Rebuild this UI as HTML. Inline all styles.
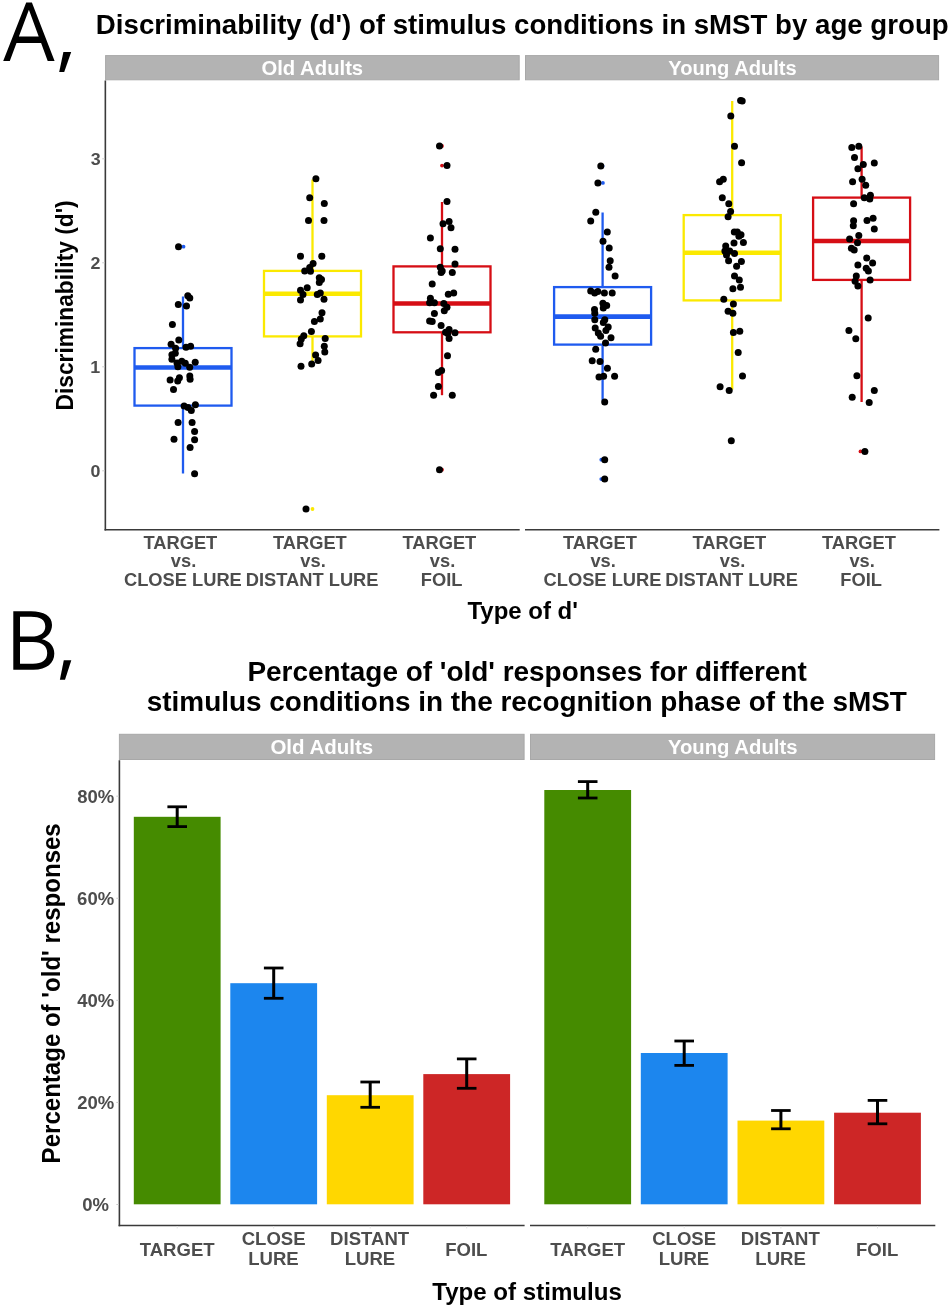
<!DOCTYPE html>
<html><head><meta charset="utf-8"><title>sMST figure</title>
<style>
html,body{margin:0;padding:0;background:#fff;}
svg{display:block;font-family:"Liberation Sans",sans-serif;will-change:transform;}
</style></head>
<body>
<svg width="950" height="1308" viewBox="0 0 950 1308">
<rect width="950" height="1308" fill="#fff"/>
<path fill="#000" fill-rule="evenodd" d="M3.2,61 L26.2,2.5 L31.9,2.5 L54.6,61 L47.7,61 L41.1,43 L16.5,43 L9.8,61 Z M18.9,36.6 L38.7,36.6 L28.9,9.8 Z"/>
<path fill="#000" d="M63.4,51.9 L71.2,51.9 L64.2,71.9 L59.2,71.9 Z"/>
<path fill="#000" fill-rule="evenodd" d="M13.3,611.3 L31,611.3 C44,611.3 52,616 52,625 C52,632 47.5,637 42,639.2 C49.5,641 54.3,646 54.3,653.5 C54.3,663 47,669.7 33.4,669.7 L13.3,669.7 Z M20,616.8 L31,616.8 C40,616.8 45.3,619.5 45.3,626.5 C45.3,633 40,636.6 31,636.6 L20,636.6 Z M20,642.1 L33,642.1 C42.5,642.1 47.2,646.5 47.2,653 C47.2,660 42,663.8 33,663.8 L20,663.8 Z"/>
<path fill="#000" d="M63.8,660.3 L71.3,660.3 L65,679.8 L59.9,679.8 Z"/>
<text transform="translate(95.86,33.80) scale(1.0319,1)" font-size="26.8" font-weight="bold" fill="#000">Discriminability (d&#39;) of stimulus conditions in sMST by age group</text>
<text transform="translate(247.40,680.90) scale(0.9974,1)" font-size="28" font-weight="bold" fill="#000">Percentage of &#39;old&#39; responses for different</text>
<text transform="translate(146.78,710.90) scale(0.9977,1)" font-size="28" font-weight="bold" fill="#000">stimulus conditions in the recognition phase of the sMST</text>
<rect x="105.6" y="55.6" width="413.6" height="24.199999999999996" fill="#B3B3B3" stroke="#A8A8A8" stroke-width="1"/>
<rect x="525.5" y="55.6" width="413.1" height="24.199999999999996" fill="#B3B3B3" stroke="#A8A8A8" stroke-width="1"/>
<rect x="119.4" y="734.3" width="404.70000000000005" height="25.200000000000045" fill="#B3B3B3" stroke="#A8A8A8" stroke-width="1"/>
<rect x="530.5" y="734.3" width="404.1" height="25.200000000000045" fill="#B3B3B3" stroke="#A8A8A8" stroke-width="1"/>
<text transform="translate(261.49,75.00) scale(1.0132,1)" font-size="20" font-weight="bold" fill="#FFFFFF">Old Adults</text>
<text transform="translate(668.30,75.00) scale(1.0063,1)" font-size="20" font-weight="bold" fill="#FFFFFF">Young Adults</text>
<text transform="translate(270.38,754.40) scale(1.0102,1)" font-size="20.3" font-weight="bold" fill="#FFFFFF">Old Adults</text>
<text transform="translate(667.89,754.40) scale(1.0000,1)" font-size="20.3" font-weight="bold" fill="#FFFFFF">Young Adults</text>
<line x1="105.35" y1="80.5" x2="105.35" y2="530.55" stroke="#3A3A3A" stroke-width="1.6"/>
<line x1="104.55" y1="529.75" x2="519.7" y2="529.75" stroke="#3A3A3A" stroke-width="1.6"/>
<line x1="525.0" y1="529.75" x2="939.4" y2="529.75" stroke="#3A3A3A" stroke-width="1.6"/>
<text transform="translate(90.59,476.90) scale(1.0500,1)" font-size="17" font-weight="bold" fill="#4D4D4D">0</text>
<line x1="102.2" y1="470.80" x2="104.6" y2="470.80" stroke="#CCCCCC" stroke-width="1"/>
<text transform="translate(90.23,372.90) scale(1.0500,1)" font-size="17" font-weight="bold" fill="#4D4D4D">1</text>
<line x1="102.2" y1="366.80" x2="104.6" y2="366.80" stroke="#CCCCCC" stroke-width="1"/>
<text transform="translate(90.59,268.90) scale(1.0500,1)" font-size="17" font-weight="bold" fill="#4D4D4D">2</text>
<line x1="102.2" y1="262.80" x2="104.6" y2="262.80" stroke="#CCCCCC" stroke-width="1"/>
<text transform="translate(90.68,164.90) scale(1.0500,1)" font-size="17" font-weight="bold" fill="#4D4D4D">3</text>
<line x1="102.2" y1="158.80" x2="104.6" y2="158.80" stroke="#CCCCCC" stroke-width="1"/>
<text transform="translate(73.00,410.39) rotate(-90) scale(0.9282,1)" font-size="24.5" font-weight="bold" fill="#000">Discriminability (d&#39;)</text>
<text transform="translate(467.46,618.70) scale(0.9991,1)" font-size="24" font-weight="bold" fill="#000">Type of d&#39;</text>
<text transform="translate(143.43,548.50) scale(1.0400,1)" font-size="17.6" font-weight="bold" fill="#4D4D4D">TARGET</text>
<text transform="translate(170.83,567.20) scale(1.0400,1)" font-size="17.6" font-weight="bold" fill="#4D4D4D">vs.</text>
<text transform="translate(123.97,586.10) scale(1.0400,1)" font-size="17.6" font-weight="bold" fill="#4D4D4D">CLOSE LURE</text>
<text transform="translate(272.93,548.50) scale(1.0400,1)" font-size="17.6" font-weight="bold" fill="#4D4D4D">TARGET</text>
<text transform="translate(300.33,567.20) scale(1.0400,1)" font-size="17.6" font-weight="bold" fill="#4D4D4D">vs.</text>
<text transform="translate(245.78,586.10) scale(1.0400,1)" font-size="17.6" font-weight="bold" fill="#4D4D4D">DISTANT LURE</text>
<text transform="translate(402.43,548.50) scale(1.0400,1)" font-size="17.6" font-weight="bold" fill="#4D4D4D">TARGET</text>
<text transform="translate(429.83,567.20) scale(1.0400,1)" font-size="17.6" font-weight="bold" fill="#4D4D4D">vs.</text>
<text transform="translate(420.77,586.10) scale(1.0400,1)" font-size="17.6" font-weight="bold" fill="#4D4D4D">FOIL</text>
<text transform="translate(563.03,548.50) scale(1.0400,1)" font-size="17.6" font-weight="bold" fill="#4D4D4D">TARGET</text>
<text transform="translate(590.43,567.20) scale(1.0400,1)" font-size="17.6" font-weight="bold" fill="#4D4D4D">vs.</text>
<text transform="translate(543.57,586.10) scale(1.0400,1)" font-size="17.6" font-weight="bold" fill="#4D4D4D">CLOSE LURE</text>
<text transform="translate(692.43,548.50) scale(1.0400,1)" font-size="17.6" font-weight="bold" fill="#4D4D4D">TARGET</text>
<text transform="translate(719.83,567.20) scale(1.0400,1)" font-size="17.6" font-weight="bold" fill="#4D4D4D">vs.</text>
<text transform="translate(665.28,586.10) scale(1.0400,1)" font-size="17.6" font-weight="bold" fill="#4D4D4D">DISTANT LURE</text>
<text transform="translate(822.03,548.50) scale(1.0400,1)" font-size="17.6" font-weight="bold" fill="#4D4D4D">TARGET</text>
<text transform="translate(849.43,567.20) scale(1.0400,1)" font-size="17.6" font-weight="bold" fill="#4D4D4D">vs.</text>
<text transform="translate(840.37,586.10) scale(1.0400,1)" font-size="17.6" font-weight="bold" fill="#4D4D4D">FOIL</text>
<line x1="183.0" y1="530.6" x2="183.0" y2="533" stroke="#E4E4E4" stroke-width="1"/>
<line x1="312.5" y1="530.6" x2="312.5" y2="533" stroke="#E4E4E4" stroke-width="1"/>
<line x1="442.0" y1="530.6" x2="442.0" y2="533" stroke="#E4E4E4" stroke-width="1"/>
<line x1="602.6" y1="530.6" x2="602.6" y2="533" stroke="#E4E4E4" stroke-width="1"/>
<line x1="732.0" y1="530.6" x2="732.0" y2="533" stroke="#E4E4E4" stroke-width="1"/>
<line x1="861.6" y1="530.6" x2="861.6" y2="533" stroke="#E4E4E4" stroke-width="1"/>
<line x1="183.0" y1="296.5" x2="183.0" y2="348.1" stroke="#1F5BEF" stroke-width="2.3"/>
<line x1="183.0" y1="405.6" x2="183.0" y2="473.5" stroke="#1F5BEF" stroke-width="2.3"/>
<rect x="134.5" y="348.1" width="97.0" height="57.50" fill="none" stroke="#1F5BEF" stroke-width="2.3"/>
<line x1="134.5" y1="367.5" x2="231.5" y2="367.5" stroke="#1F5BEF" stroke-width="4.6"/>
<line x1="312.5" y1="179.5" x2="312.5" y2="270.9" stroke="#FBE900" stroke-width="2.3"/>
<line x1="312.5" y1="336.4" x2="312.5" y2="361.0" stroke="#FBE900" stroke-width="2.3"/>
<rect x="264.0" y="270.9" width="97.0" height="65.50" fill="none" stroke="#FBE900" stroke-width="2.3"/>
<line x1="264.0" y1="293.8" x2="361.0" y2="293.8" stroke="#FBE900" stroke-width="4.6"/>
<line x1="442.0" y1="202.0" x2="442.0" y2="266.4" stroke="#D60E15" stroke-width="2.3"/>
<line x1="442.0" y1="332.3" x2="442.0" y2="395.2" stroke="#D60E15" stroke-width="2.3"/>
<rect x="393.5" y="266.4" width="97.0" height="65.90" fill="none" stroke="#D60E15" stroke-width="2.3"/>
<line x1="393.5" y1="303.5" x2="490.5" y2="303.5" stroke="#D60E15" stroke-width="4.6"/>
<line x1="602.6" y1="212.5" x2="602.6" y2="287.1" stroke="#1F5BEF" stroke-width="2.3"/>
<line x1="602.6" y1="344.6" x2="602.6" y2="400.4" stroke="#1F5BEF" stroke-width="2.3"/>
<rect x="554.1" y="287.1" width="97.0" height="57.50" fill="none" stroke="#1F5BEF" stroke-width="2.3"/>
<line x1="554.1" y1="316.6" x2="651.1" y2="316.6" stroke="#1F5BEF" stroke-width="4.6"/>
<line x1="732.2" y1="101.0" x2="732.2" y2="215.1" stroke="#FBE900" stroke-width="2.3"/>
<line x1="732.2" y1="300.4" x2="732.2" y2="389.6" stroke="#FBE900" stroke-width="2.3"/>
<rect x="683.7" y="215.1" width="97.0" height="85.30" fill="none" stroke="#FBE900" stroke-width="2.3"/>
<line x1="683.7" y1="252.8" x2="780.7" y2="252.8" stroke="#FBE900" stroke-width="4.6"/>
<line x1="861.6" y1="146.6" x2="861.6" y2="197.6" stroke="#D60E15" stroke-width="2.3"/>
<line x1="861.6" y1="279.9" x2="861.6" y2="402.0" stroke="#D60E15" stroke-width="2.3"/>
<rect x="813.1" y="197.6" width="97.0" height="82.30" fill="none" stroke="#D60E15" stroke-width="2.3"/>
<line x1="813.1" y1="241.0" x2="910.1" y2="241.0" stroke="#D60E15" stroke-width="4.6"/>
<circle cx="183.5" cy="246.7" r="1.9" fill="#1F5BEF"/>
<circle cx="312.5" cy="509.0" r="1.9" fill="#FBE900"/>
<circle cx="442.0" cy="146.0" r="1.9" fill="#D60E15"/>
<circle cx="442.0" cy="165.6" r="1.9" fill="#D60E15"/>
<circle cx="442.0" cy="469.7" r="1.9" fill="#D60E15"/>
<circle cx="602.9" cy="182.9" r="1.9" fill="#1F5BEF"/>
<circle cx="602.6" cy="166.1" r="1.9" fill="#1F5BEF"/>
<circle cx="601.3" cy="459.7" r="1.9" fill="#1F5BEF"/>
<circle cx="601.3" cy="479.1" r="1.9" fill="#1F5BEF"/>
<circle cx="732.0" cy="440.8" r="1.9" fill="#FBE900"/>
<circle cx="860.5" cy="451.4" r="1.9" fill="#D60E15"/>
<circle cx="178.5" cy="246.7" r="3.5" fill="#000"/>
<circle cx="187.8" cy="295.8" r="3.5" fill="#000"/>
<circle cx="189.8" cy="298.1" r="3.5" fill="#000"/>
<circle cx="178.3" cy="304.4" r="3.5" fill="#000"/>
<circle cx="186.5" cy="306.1" r="3.5" fill="#000"/>
<circle cx="172.4" cy="324.5" r="3.5" fill="#000"/>
<circle cx="178.8" cy="340.1" r="3.5" fill="#000"/>
<circle cx="171.1" cy="344.3" r="3.5" fill="#000"/>
<circle cx="186.0" cy="347.3" r="3.5" fill="#000"/>
<circle cx="190.6" cy="346.3" r="3.5" fill="#000"/>
<circle cx="175.6" cy="348.3" r="3.5" fill="#000"/>
<circle cx="175.3" cy="353.3" r="3.5" fill="#000"/>
<circle cx="171.9" cy="354.8" r="3.5" fill="#000"/>
<circle cx="171.9" cy="359.3" r="3.5" fill="#000"/>
<circle cx="181.8" cy="361.2" r="3.5" fill="#000"/>
<circle cx="185.3" cy="363.2" r="3.5" fill="#000"/>
<circle cx="195.2" cy="362.2" r="3.5" fill="#000"/>
<circle cx="177.9" cy="366.7" r="3.5" fill="#000"/>
<circle cx="189.7" cy="367.2" r="3.5" fill="#000"/>
<circle cx="177.0" cy="363.1" r="3.5" fill="#000"/>
<circle cx="179.4" cy="377.8" r="3.5" fill="#000"/>
<circle cx="177.7" cy="381.1" r="3.5" fill="#000"/>
<circle cx="170.1" cy="380.1" r="3.5" fill="#000"/>
<circle cx="189.8" cy="376.0" r="3.5" fill="#000"/>
<circle cx="190.1" cy="379.3" r="3.5" fill="#000"/>
<circle cx="173.5" cy="389.6" r="3.5" fill="#000"/>
<circle cx="184.1" cy="405.9" r="3.5" fill="#000"/>
<circle cx="188.0" cy="407.5" r="3.5" fill="#000"/>
<circle cx="191.3" cy="410.6" r="3.5" fill="#000"/>
<circle cx="195.4" cy="404.7" r="3.5" fill="#000"/>
<circle cx="178.1" cy="422.6" r="3.5" fill="#000"/>
<circle cx="192.1" cy="422.6" r="3.5" fill="#000"/>
<circle cx="194.6" cy="431.5" r="3.5" fill="#000"/>
<circle cx="174.0" cy="439.2" r="3.5" fill="#000"/>
<circle cx="194.6" cy="439.8" r="3.5" fill="#000"/>
<circle cx="190.1" cy="447.5" r="3.5" fill="#000"/>
<circle cx="194.6" cy="473.8" r="3.5" fill="#000"/>
<circle cx="315.9" cy="178.8" r="3.5" fill="#000"/>
<circle cx="309.7" cy="197.8" r="3.5" fill="#000"/>
<circle cx="324.3" cy="203.4" r="3.5" fill="#000"/>
<circle cx="308.5" cy="220.5" r="3.5" fill="#000"/>
<circle cx="324.0" cy="220.5" r="3.5" fill="#000"/>
<circle cx="300.5" cy="256.2" r="3.5" fill="#000"/>
<circle cx="321.8" cy="256.2" r="3.5" fill="#000"/>
<circle cx="313.1" cy="263.4" r="3.5" fill="#000"/>
<circle cx="309.7" cy="267.6" r="3.5" fill="#000"/>
<circle cx="304.7" cy="271.0" r="3.5" fill="#000"/>
<circle cx="310.5" cy="271.3" r="3.5" fill="#000"/>
<circle cx="319.3" cy="277.7" r="3.5" fill="#000"/>
<circle cx="321.5" cy="279.4" r="3.5" fill="#000"/>
<circle cx="319.3" cy="282.4" r="3.5" fill="#000"/>
<circle cx="307.2" cy="287.8" r="3.5" fill="#000"/>
<circle cx="300.5" cy="290.3" r="3.5" fill="#000"/>
<circle cx="303.0" cy="294.5" r="3.5" fill="#000"/>
<circle cx="300.5" cy="299.9" r="3.5" fill="#000"/>
<circle cx="317.3" cy="294.5" r="3.5" fill="#000"/>
<circle cx="320.3" cy="292.9" r="3.5" fill="#000"/>
<circle cx="324.0" cy="299.3" r="3.5" fill="#000"/>
<circle cx="322.0" cy="312.7" r="3.5" fill="#000"/>
<circle cx="320.3" cy="318.9" r="3.5" fill="#000"/>
<circle cx="314.4" cy="321.5" r="3.5" fill="#000"/>
<circle cx="311.4" cy="331.5" r="3.5" fill="#000"/>
<circle cx="303.8" cy="335.7" r="3.5" fill="#000"/>
<circle cx="301.3" cy="339.1" r="3.5" fill="#000"/>
<circle cx="300.1" cy="343.7" r="3.5" fill="#000"/>
<circle cx="325.2" cy="338.6" r="3.5" fill="#000"/>
<circle cx="324.3" cy="346.3" r="3.5" fill="#000"/>
<circle cx="324.8" cy="352.1" r="3.5" fill="#000"/>
<circle cx="315.6" cy="355.1" r="3.5" fill="#000"/>
<circle cx="318.1" cy="360.5" r="3.5" fill="#000"/>
<circle cx="311.7" cy="364.0" r="3.5" fill="#000"/>
<circle cx="301.0" cy="366.2" r="3.5" fill="#000"/>
<circle cx="306.0" cy="509.0" r="3.5" fill="#000"/>
<circle cx="439.5" cy="146.1" r="3.5" fill="#000"/>
<circle cx="447.0" cy="165.6" r="3.5" fill="#000"/>
<circle cx="447.0" cy="201.5" r="3.5" fill="#000"/>
<circle cx="449.1" cy="221.6" r="3.5" fill="#000"/>
<circle cx="443.0" cy="223.8" r="3.5" fill="#000"/>
<circle cx="451.0" cy="227.8" r="3.5" fill="#000"/>
<circle cx="430.4" cy="238.0" r="3.5" fill="#000"/>
<circle cx="440.3" cy="248.7" r="3.5" fill="#000"/>
<circle cx="455.0" cy="249.2" r="3.5" fill="#000"/>
<circle cx="455.0" cy="263.9" r="3.5" fill="#000"/>
<circle cx="440.3" cy="267.2" r="3.5" fill="#000"/>
<circle cx="441.1" cy="272.5" r="3.5" fill="#000"/>
<circle cx="452.3" cy="272.5" r="3.5" fill="#000"/>
<circle cx="432.2" cy="284.0" r="3.5" fill="#000"/>
<circle cx="448.3" cy="294.2" r="3.5" fill="#000"/>
<circle cx="453.7" cy="292.9" r="3.5" fill="#000"/>
<circle cx="430.4" cy="298.2" r="3.5" fill="#000"/>
<circle cx="429.6" cy="302.8" r="3.5" fill="#000"/>
<circle cx="434.4" cy="302.8" r="3.5" fill="#000"/>
<circle cx="443.8" cy="303.6" r="3.5" fill="#000"/>
<circle cx="447.0" cy="307.3" r="3.5" fill="#000"/>
<circle cx="444.3" cy="310.8" r="3.5" fill="#000"/>
<circle cx="434.4" cy="313.5" r="3.5" fill="#000"/>
<circle cx="429.6" cy="321.0" r="3.5" fill="#000"/>
<circle cx="432.2" cy="321.5" r="3.5" fill="#000"/>
<circle cx="441.1" cy="325.6" r="3.5" fill="#000"/>
<circle cx="445.6" cy="332.2" r="3.5" fill="#000"/>
<circle cx="449.1" cy="329.6" r="3.5" fill="#000"/>
<circle cx="455.0" cy="332.8" r="3.5" fill="#000"/>
<circle cx="449.1" cy="338.4" r="3.5" fill="#000"/>
<circle cx="447.8" cy="333.6" r="3.5" fill="#000"/>
<circle cx="442.2" cy="271.0" r="3.5" fill="#000"/>
<circle cx="447.5" cy="355.8" r="3.5" fill="#000"/>
<circle cx="441.6" cy="370.6" r="3.5" fill="#000"/>
<circle cx="438.4" cy="372.4" r="3.5" fill="#000"/>
<circle cx="438.4" cy="386.4" r="3.5" fill="#000"/>
<circle cx="433.6" cy="395.2" r="3.5" fill="#000"/>
<circle cx="452.3" cy="395.2" r="3.5" fill="#000"/>
<circle cx="439.5" cy="469.7" r="3.5" fill="#000"/>
<circle cx="600.8" cy="166.1" r="3.5" fill="#000"/>
<circle cx="597.9" cy="182.9" r="3.5" fill="#000"/>
<circle cx="595.8" cy="212.2" r="3.5" fill="#000"/>
<circle cx="590.7" cy="221.1" r="3.5" fill="#000"/>
<circle cx="607.3" cy="232.1" r="3.5" fill="#000"/>
<circle cx="603.0" cy="241.2" r="3.5" fill="#000"/>
<circle cx="609.2" cy="248.1" r="3.5" fill="#000"/>
<circle cx="610.2" cy="260.7" r="3.5" fill="#000"/>
<circle cx="609.0" cy="267.3" r="3.5" fill="#000"/>
<circle cx="615.1" cy="275.9" r="3.5" fill="#000"/>
<circle cx="590.7" cy="290.9" r="3.5" fill="#000"/>
<circle cx="594.7" cy="292.9" r="3.5" fill="#000"/>
<circle cx="597.8" cy="291.4" r="3.5" fill="#000"/>
<circle cx="604.4" cy="292.9" r="3.5" fill="#000"/>
<circle cx="612.2" cy="292.9" r="3.5" fill="#000"/>
<circle cx="602.9" cy="303.3" r="3.5" fill="#000"/>
<circle cx="606.7" cy="305.6" r="3.5" fill="#000"/>
<circle cx="603.3" cy="307.9" r="3.5" fill="#000"/>
<circle cx="594.5" cy="309.5" r="3.5" fill="#000"/>
<circle cx="594.8" cy="313.3" r="3.5" fill="#000"/>
<circle cx="594.8" cy="319.8" r="3.5" fill="#000"/>
<circle cx="604.8" cy="319.8" r="3.5" fill="#000"/>
<circle cx="603.3" cy="322.4" r="3.5" fill="#000"/>
<circle cx="608.2" cy="327.0" r="3.5" fill="#000"/>
<circle cx="595.2" cy="328.1" r="3.5" fill="#000"/>
<circle cx="605.9" cy="330.5" r="3.5" fill="#000"/>
<circle cx="598.3" cy="333.1" r="3.5" fill="#000"/>
<circle cx="600.6" cy="336.2" r="3.5" fill="#000"/>
<circle cx="611.0" cy="337.7" r="3.5" fill="#000"/>
<circle cx="605.5" cy="343.1" r="3.5" fill="#000"/>
<circle cx="595.7" cy="349.2" r="3.5" fill="#000"/>
<circle cx="592.2" cy="360.7" r="3.5" fill="#000"/>
<circle cx="600.0" cy="361.4" r="3.5" fill="#000"/>
<circle cx="607.4" cy="368.3" r="3.5" fill="#000"/>
<circle cx="599.0" cy="377.0" r="3.5" fill="#000"/>
<circle cx="603.6" cy="376.2" r="3.5" fill="#000"/>
<circle cx="614.6" cy="376.2" r="3.5" fill="#000"/>
<circle cx="604.7" cy="401.9" r="3.5" fill="#000"/>
<circle cx="604.7" cy="459.7" r="3.5" fill="#000"/>
<circle cx="604.7" cy="479.1" r="3.5" fill="#000"/>
<circle cx="740.6" cy="100.6" r="3.5" fill="#000"/>
<circle cx="742.2" cy="101.0" r="3.5" fill="#000"/>
<circle cx="730.8" cy="115.9" r="3.5" fill="#000"/>
<circle cx="734.5" cy="146.3" r="3.5" fill="#000"/>
<circle cx="741.6" cy="162.8" r="3.5" fill="#000"/>
<circle cx="723.3" cy="179.3" r="3.5" fill="#000"/>
<circle cx="719.6" cy="181.8" r="3.5" fill="#000"/>
<circle cx="722.3" cy="197.7" r="3.5" fill="#000"/>
<circle cx="728.8" cy="203.8" r="3.5" fill="#000"/>
<circle cx="730.6" cy="211.4" r="3.5" fill="#000"/>
<circle cx="728.1" cy="216.7" r="3.5" fill="#000"/>
<circle cx="734.3" cy="232.0" r="3.5" fill="#000"/>
<circle cx="737.3" cy="232.0" r="3.5" fill="#000"/>
<circle cx="741.0" cy="234.7" r="3.5" fill="#000"/>
<circle cx="738.9" cy="236.2" r="3.5" fill="#000"/>
<circle cx="734.0" cy="243.0" r="3.5" fill="#000"/>
<circle cx="743.4" cy="242.4" r="3.5" fill="#000"/>
<circle cx="725.7" cy="246.0" r="3.5" fill="#000"/>
<circle cx="724.9" cy="251.1" r="3.5" fill="#000"/>
<circle cx="729.7" cy="251.1" r="3.5" fill="#000"/>
<circle cx="734.5" cy="253.5" r="3.5" fill="#000"/>
<circle cx="726.5" cy="255.1" r="3.5" fill="#000"/>
<circle cx="728.6" cy="260.7" r="3.5" fill="#000"/>
<circle cx="741.4" cy="261.5" r="3.5" fill="#000"/>
<circle cx="736.6" cy="266.3" r="3.5" fill="#000"/>
<circle cx="734.5" cy="275.9" r="3.5" fill="#000"/>
<circle cx="739.3" cy="280.0" r="3.5" fill="#000"/>
<circle cx="740.5" cy="287.2" r="3.5" fill="#000"/>
<circle cx="732.9" cy="288.8" r="3.5" fill="#000"/>
<circle cx="723.8" cy="299.2" r="3.5" fill="#000"/>
<circle cx="733.4" cy="304.0" r="3.5" fill="#000"/>
<circle cx="728.1" cy="311.3" r="3.5" fill="#000"/>
<circle cx="732.9" cy="313.2" r="3.5" fill="#000"/>
<circle cx="733.4" cy="332.6" r="3.5" fill="#000"/>
<circle cx="739.8" cy="331.3" r="3.5" fill="#000"/>
<circle cx="738.2" cy="352.5" r="3.5" fill="#000"/>
<circle cx="742.5" cy="376.0" r="3.5" fill="#000"/>
<circle cx="720.1" cy="386.7" r="3.5" fill="#000"/>
<circle cx="729.2" cy="390.4" r="3.5" fill="#000"/>
<circle cx="731.3" cy="440.8" r="3.5" fill="#000"/>
<circle cx="851.8" cy="147.5" r="3.5" fill="#000"/>
<circle cx="858.8" cy="146.3" r="3.5" fill="#000"/>
<circle cx="854.5" cy="157.6" r="3.5" fill="#000"/>
<circle cx="863.3" cy="164.4" r="3.5" fill="#000"/>
<circle cx="874.3" cy="162.9" r="3.5" fill="#000"/>
<circle cx="857.9" cy="168.7" r="3.5" fill="#000"/>
<circle cx="852.6" cy="181.8" r="3.5" fill="#000"/>
<circle cx="862.1" cy="179.3" r="3.5" fill="#000"/>
<circle cx="865.7" cy="185.2" r="3.5" fill="#000"/>
<circle cx="864.3" cy="197.7" r="3.5" fill="#000"/>
<circle cx="870.4" cy="195.2" r="3.5" fill="#000"/>
<circle cx="869.8" cy="198.9" r="3.5" fill="#000"/>
<circle cx="853.6" cy="203.8" r="3.5" fill="#000"/>
<circle cx="853.6" cy="220.7" r="3.5" fill="#000"/>
<circle cx="853.3" cy="225.8" r="3.5" fill="#000"/>
<circle cx="867.0" cy="220.4" r="3.5" fill="#000"/>
<circle cx="873.1" cy="218.2" r="3.5" fill="#000"/>
<circle cx="874.3" cy="229.0" r="3.5" fill="#000"/>
<circle cx="858.8" cy="235.6" r="3.5" fill="#000"/>
<circle cx="849.6" cy="239.0" r="3.5" fill="#000"/>
<circle cx="857.5" cy="242.7" r="3.5" fill="#000"/>
<circle cx="851.4" cy="248.2" r="3.5" fill="#000"/>
<circle cx="854.2" cy="250.0" r="3.5" fill="#000"/>
<circle cx="866.7" cy="258.0" r="3.5" fill="#000"/>
<circle cx="872.6" cy="262.9" r="3.5" fill="#000"/>
<circle cx="857.9" cy="265.0" r="3.5" fill="#000"/>
<circle cx="866.2" cy="268.2" r="3.5" fill="#000"/>
<circle cx="868.4" cy="271.0" r="3.5" fill="#000"/>
<circle cx="856.3" cy="276.0" r="3.5" fill="#000"/>
<circle cx="855.1" cy="281.2" r="3.5" fill="#000"/>
<circle cx="870.1" cy="280.0" r="3.5" fill="#000"/>
<circle cx="857.9" cy="286.1" r="3.5" fill="#000"/>
<circle cx="868.2" cy="318.0" r="3.5" fill="#000"/>
<circle cx="848.9" cy="330.5" r="3.5" fill="#000"/>
<circle cx="855.8" cy="338.8" r="3.5" fill="#000"/>
<circle cx="856.9" cy="375.8" r="3.5" fill="#000"/>
<circle cx="874.3" cy="390.4" r="3.5" fill="#000"/>
<circle cx="852.2" cy="397.3" r="3.5" fill="#000"/>
<circle cx="869.2" cy="402.4" r="3.5" fill="#000"/>
<circle cx="864.9" cy="451.4" r="3.5" fill="#000"/>
<line x1="119.4" y1="760.2" x2="119.4" y2="1226.3" stroke="#3A3A3A" stroke-width="1.6"/>
<line x1="118.6" y1="1225.5" x2="524.6" y2="1225.5" stroke="#3A3A3A" stroke-width="1.6"/>
<line x1="530.0" y1="1225.5" x2="935.3" y2="1225.5" stroke="#3A3A3A" stroke-width="1.6"/>
<text transform="translate(82.20,1211.00) scale(1.0000,1)" font-size="18.5" font-weight="bold" fill="#4D4D4D">0%</text>
<line x1="116.3" y1="1204.50" x2="118.7" y2="1204.50" stroke="#CCCCCC" stroke-width="1"/>
<text transform="translate(77.20,1108.92) scale(1.0000,1)" font-size="18.5" font-weight="bold" fill="#4D4D4D">20%</text>
<line x1="116.3" y1="1102.42" x2="118.7" y2="1102.42" stroke="#CCCCCC" stroke-width="1"/>
<text transform="translate(77.29,1006.84) scale(1.0000,1)" font-size="18.5" font-weight="bold" fill="#4D4D4D">40%</text>
<line x1="116.3" y1="1000.34" x2="118.7" y2="1000.34" stroke="#CCCCCC" stroke-width="1"/>
<text transform="translate(77.11,904.76) scale(1.0000,1)" font-size="18.5" font-weight="bold" fill="#4D4D4D">60%</text>
<line x1="116.3" y1="898.26" x2="118.7" y2="898.26" stroke="#CCCCCC" stroke-width="1"/>
<text transform="translate(77.20,802.68) scale(1.0000,1)" font-size="18.5" font-weight="bold" fill="#4D4D4D">80%</text>
<line x1="116.3" y1="796.18" x2="118.7" y2="796.18" stroke="#CCCCCC" stroke-width="1"/>
<text transform="translate(59.80,1163.38) rotate(-90) scale(0.9625,1)" font-size="25" font-weight="bold" fill="#000">Percentage of &#39;old&#39; responses</text>
<text transform="translate(432.21,1299.60) scale(1.0046,1)" font-size="24" font-weight="bold" fill="#000">Type of stimulus</text>
<rect x="133.80" y="816.8" width="86.8" height="387.50" fill="#458B00"/>
<rect x="230.30" y="983.2" width="86.8" height="221.10" fill="#1C86EE"/>
<rect x="326.80" y="1095.2" width="86.8" height="109.10" fill="#FFD700"/>
<rect x="423.30" y="1074.1" width="86.8" height="130.20" fill="#CD2626"/>
<rect x="544.30" y="790.0" width="86.8" height="414.30" fill="#458B00"/>
<rect x="640.80" y="1053.0" width="86.8" height="151.30" fill="#1C86EE"/>
<rect x="737.50" y="1120.6" width="86.8" height="83.70" fill="#FFD700"/>
<rect x="834.10" y="1112.7" width="86.8" height="91.60" fill="#CD2626"/>
<line x1="177.2" y1="806.8" x2="177.2" y2="826.6" stroke="#000" stroke-width="3.0"/>
<line x1="167.40" y1="806.8" x2="187.00" y2="806.8" stroke="#000" stroke-width="2.8"/>
<line x1="167.40" y1="826.6" x2="187.00" y2="826.6" stroke="#000" stroke-width="2.8"/>
<line x1="273.7" y1="968.0" x2="273.7" y2="998.3" stroke="#000" stroke-width="3.0"/>
<line x1="263.90" y1="968.0" x2="283.50" y2="968.0" stroke="#000" stroke-width="2.8"/>
<line x1="263.90" y1="998.3" x2="283.50" y2="998.3" stroke="#000" stroke-width="2.8"/>
<line x1="370.2" y1="1082.0" x2="370.2" y2="1107.3" stroke="#000" stroke-width="3.0"/>
<line x1="360.40" y1="1082.0" x2="380.00" y2="1082.0" stroke="#000" stroke-width="2.8"/>
<line x1="360.40" y1="1107.3" x2="380.00" y2="1107.3" stroke="#000" stroke-width="2.8"/>
<line x1="466.7" y1="1058.9" x2="466.7" y2="1088.3" stroke="#000" stroke-width="3.0"/>
<line x1="456.90" y1="1058.9" x2="476.50" y2="1058.9" stroke="#000" stroke-width="2.8"/>
<line x1="456.90" y1="1088.3" x2="476.50" y2="1088.3" stroke="#000" stroke-width="2.8"/>
<line x1="587.7" y1="781.6" x2="587.7" y2="798.0" stroke="#000" stroke-width="3.0"/>
<line x1="577.90" y1="781.6" x2="597.50" y2="781.6" stroke="#000" stroke-width="2.8"/>
<line x1="577.90" y1="798.0" x2="597.50" y2="798.0" stroke="#000" stroke-width="2.8"/>
<line x1="684.2" y1="1041.0" x2="684.2" y2="1065.4" stroke="#000" stroke-width="3.0"/>
<line x1="674.40" y1="1041.0" x2="694.00" y2="1041.0" stroke="#000" stroke-width="2.8"/>
<line x1="674.40" y1="1065.4" x2="694.00" y2="1065.4" stroke="#000" stroke-width="2.8"/>
<line x1="780.9" y1="1110.5" x2="780.9" y2="1128.8" stroke="#000" stroke-width="3.0"/>
<line x1="771.10" y1="1110.5" x2="790.70" y2="1110.5" stroke="#000" stroke-width="2.8"/>
<line x1="771.10" y1="1128.8" x2="790.70" y2="1128.8" stroke="#000" stroke-width="2.8"/>
<line x1="877.5" y1="1100.4" x2="877.5" y2="1123.8" stroke="#000" stroke-width="3.0"/>
<line x1="867.70" y1="1100.4" x2="887.30" y2="1100.4" stroke="#000" stroke-width="2.8"/>
<line x1="867.70" y1="1123.8" x2="887.30" y2="1123.8" stroke="#000" stroke-width="2.8"/>
<line x1="177.2" y1="1226.1" x2="177.2" y2="1228.5" stroke="#E4E4E4" stroke-width="1"/>
<line x1="273.7" y1="1226.1" x2="273.7" y2="1228.5" stroke="#E4E4E4" stroke-width="1"/>
<line x1="370.2" y1="1226.1" x2="370.2" y2="1228.5" stroke="#E4E4E4" stroke-width="1"/>
<line x1="466.7" y1="1226.1" x2="466.7" y2="1228.5" stroke="#E4E4E4" stroke-width="1"/>
<line x1="587.7" y1="1226.1" x2="587.7" y2="1228.5" stroke="#E4E4E4" stroke-width="1"/>
<line x1="684.2" y1="1226.1" x2="684.2" y2="1228.5" stroke="#E4E4E4" stroke-width="1"/>
<line x1="780.9" y1="1226.1" x2="780.9" y2="1228.5" stroke="#E4E4E4" stroke-width="1"/>
<line x1="877.5" y1="1226.1" x2="877.5" y2="1228.5" stroke="#E4E4E4" stroke-width="1"/>
<text transform="translate(139.70,1255.50) scale(1.0200,1)" font-size="18.2" font-weight="bold" fill="#4D4D4D">TARGET</text>
<text transform="translate(241.68,1245.40) scale(1.0200,1)" font-size="18.2" font-weight="bold" fill="#4D4D4D">CLOSE</text>
<text transform="translate(248.17,1265.00) scale(1.0200,1)" font-size="18.2" font-weight="bold" fill="#4D4D4D">LURE</text>
<text transform="translate(330.10,1245.40) scale(1.0200,1)" font-size="18.2" font-weight="bold" fill="#4D4D4D">DISTANT</text>
<text transform="translate(344.67,1265.00) scale(1.0200,1)" font-size="18.2" font-weight="bold" fill="#4D4D4D">LURE</text>
<text transform="translate(445.17,1255.50) scale(1.0200,1)" font-size="18.2" font-weight="bold" fill="#4D4D4D">FOIL</text>
<text transform="translate(550.20,1255.50) scale(1.0200,1)" font-size="18.2" font-weight="bold" fill="#4D4D4D">TARGET</text>
<text transform="translate(652.18,1245.40) scale(1.0200,1)" font-size="18.2" font-weight="bold" fill="#4D4D4D">CLOSE</text>
<text transform="translate(658.67,1265.00) scale(1.0200,1)" font-size="18.2" font-weight="bold" fill="#4D4D4D">LURE</text>
<text transform="translate(740.80,1245.40) scale(1.0200,1)" font-size="18.2" font-weight="bold" fill="#4D4D4D">DISTANT</text>
<text transform="translate(755.37,1265.00) scale(1.0200,1)" font-size="18.2" font-weight="bold" fill="#4D4D4D">LURE</text>
<text transform="translate(855.97,1255.50) scale(1.0200,1)" font-size="18.2" font-weight="bold" fill="#4D4D4D">FOIL</text>
</svg>
</body></html>
